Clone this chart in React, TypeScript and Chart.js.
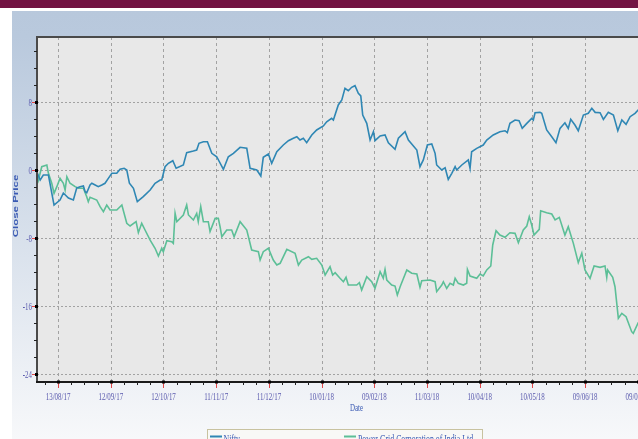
import { useEffect, useRef } from 'react';
import { Chart, registerables } from 'chart.js';

Chart.register(...registerables);

// ---- data ----
const xTickLabels = ['13/08/17', '12/09/17', '12/10/17', '11/11/17', '11/12/17', '10/01/18', '09/02/18', '11/03/18', '10/04/18', '10/05/18', '09/06/18', '09/07/18'];
const xTickStepDays = 30; // labelled ticks every 30 days from 13/08/17
const yTickValues = [8, 0, -8, -16, -24];
const seriesNames = ['Nifty', 'Power Grid Corporation of India Ltd.'];
const xTitle = 'Date';
const yTitle = 'Close Price';

// [days since 13/08/17, close price change]
const niftyClose: [number, number][] = [
  [-12.1, -0.2], [-10.2, -1.18], [-8.4, -0.59], [-5.5, -0.59], [-2.3, -4.12], [1.1, -3.53], [3, -2.71], [5.9, -3.29], [8.7, -3.53], [10.6, -2.12],
  [12.5, -1.96], [14.4, -1.88], [15.4, -2.55], [16.3, -2.67], [18.2, -1.76], [19.2, -1.56], [21.1, -1.76], [22.9, -1.96], [24.9, -1.76], [26.7, -1.56],
  [28.6, -0.98], [30.6, -0.39], [33.4, -0.39], [35.3, 0.08], [37.6, 0.2], [39.1, 0], [40.6, -1.56], [42.9, -2.15], [45.1, -3.73], [48.5, -3.14],
  [52.4, -2.35], [55.2, -1.56], [58.1, -1.18], [59, -1.18], [60.9, 0.39], [62.8, 0.79], [65.3, 1.09], [67.2, 0.2], [71.3, 0.59], [73.2, 2.04],
  [77, 2.24], [78.9, 2.35], [80.2, 3.14], [82.7, 3.33], [85, 3.33], [87.5, 1.96], [90.3, 1.56], [94.1, 0.08], [96.9, 1.56], [99.8, 1.96],
  [103.6, 2.67], [107.4, 2.55], [109.3, 0.2], [113.1, 0], [115.4, -0.71], [116.8, 1.49], [119.7, 1.88], [121.6, 0.79], [124.5, 2.15], [128.2, 2.94],
  [131.1, 3.45], [133.9, 3.73], [135.9, 3.92], [137.7, 3.53], [139.6, 3.73], [141.5, 3.21], [144.4, 4.12], [147.2, 4.71], [151, 5.18], [152.9, 5.68],
  [155.7, 6.08], [156.7, 5.88], [159.5, 7.65], [161.5, 8.24], [163.3, 9.61], [165.2, 9.33], [167.1, 9.73], [169, 9.92], [170.9, 9.02], [172.3, 8.71],
  [173.4, 6.47], [175.7, 5.49], [177.6, 3.53], [179.5, 4.51], [180.4, 3.45], [183.3, 4.0], [186.1, 4.12], [188, 3.21], [191.8, 2.43], [193.7, 3.73],
  [197.5, 4.51], [199.4, 3.53], [204.2, 2.35], [206, 0.39], [207.9, 1.18], [210.2, 2.94], [212.7, 3.06], [214.6, 1.96], [215.5, 0.59], [218.4, 0],
  [220.3, 0.27], [222.1, -1.1], [224.1, -0.39], [226, 0.39], [226.9, 0], [229.8, 0.59], [233.5, 1.18], [234.5, 0.2], [235.4, 2.15], [238.3, 2.55],
  [242, 2.94], [244, 3.53], [247.7, 4.12], [251.5, 4.51], [254.4, 4.62], [255.7, 4.39], [257.2, 5.49], [260.1, 5.88], [262.4, 5.8], [264.2, 4.9],
  [266.8, 5.49], [269.6, 6.08], [270.5, 5.88], [271.5, 6.74], [274.3, 6.78], [275.3, 6.67], [278.1, 4.71], [281, 3.92], [283.4, 3.21], [285.7, 4.9],
  [288.5, 5.56], [290.4, 4.9], [291.8, 5.96], [294.2, 5.29], [296.1, 4.62], [299, 6.47], [301.8, 6.67], [303.8, 7.26], [305.7, 6.78], [308.5, 6.74],
  [310.4, 5.96], [313.2, 6.78], [316.1, 6.47], [318.6, 4.62], [320.9, 5.88], [323.3, 5.37], [325.6, 6.27], [328.4, 6.67], [330.2, 7.06], [334.2, 7.3],
];

const powerGridClose: [number, number][] = [
  [-12.1, -0.2], [-11.2, -1.18], [-9.3, 0.39], [-6.4, 0.59], [-5.5, -0.39], [-3.6, -1.56], [-2.3, -2.74], [-0.7, -1.96], [1.1, -0.98], [3, -1.56],
  [4, -2.35], [5, -0.79], [6.8, -1.56], [9.7, -1.96], [11.6, -2.15], [14.4, -2.15], [16.3, -3.14], [17.2, -3.73], [18.2, -3.21], [22, -3.53],
  [23.9, -4.31], [25.8, -4.9], [27.7, -4.12], [29.6, -4.71], [33.4, -4.71], [36.3, -4.12], [39.1, -6.27], [41, -6.59], [44.4, -6.08], [45.7, -7.37],
  [47.6, -6.27], [49.5, -7.06], [52.4, -8.24], [55.2, -9.21], [57.1, -10.12], [59, -9.21], [59.9, -9.61], [61.9, -8.31], [64.7, -8.43], [65.6, -8.63],
  [66.6, -5.1], [67.6, -6.08], [71.3, -5.29], [73.2, -4.12], [74.2, -5.29], [77, -5.88], [78.9, -5.1], [79.8, -6.08], [81.2, -4.31], [82.7, -6.08],
  [85.5, -6.08], [86.5, -7.25], [89.4, -5.69], [91.2, -5.69], [92.2, -6.67], [93.2, -7.85], [96, -7.06], [98.8, -7.06], [100.2, -7.85], [103.6, -6.08],
  [107.4, -7.06], [110.2, -9.41], [114, -9.61], [115, -10.59], [116.8, -9.61], [119.7, -9.21], [122.5, -10.59], [124.5, -11.18], [126.4, -10.98], [130.2, -9.33],
  [134.9, -9.8], [136.8, -11.18], [138.7, -10.59], [142.5, -10.2], [144.4, -10.51], [147.2, -10.39], [150.1, -11.18], [152, -12.35], [154.8, -11.37], [156.3, -12.35],
  [157.7, -12.08], [160.5, -12.74], [162.4, -13.14], [163.9, -12.62], [165.2, -13.53], [170, -13.53], [171.5, -13.26], [172.8, -14.12], [175.7, -12.55], [178.5, -13.14],
  [180.4, -13.92], [183.3, -11.96], [185.1, -12.74], [186.1, -11.69], [187.1, -12.94], [189.9, -13.53], [191.8, -13.65], [193.1, -14.71], [194.7, -13.73], [198.5, -11.76],
  [201.3, -12.15], [204.2, -12.24], [206, -13.8], [207, -13.02], [211.7, -12.94], [214.6, -13.14], [215.5, -14.31], [218.4, -13.53], [219.3, -13.14], [221.2, -13.92],
  [223.1, -13.33], [225, -13.53], [226, -12.74], [227.8, -13.33], [230.7, -13.53], [232.6, -13.33], [233, -11.69], [234.5, -12.47], [238.3, -12.74], [240.2, -12.24],
  [242, -12.47], [244, -11.76], [246.3, -11.29], [247.4, -8.82], [249.3, -7.14], [251.5, -7.65], [254.4, -7.92], [257.2, -7.38], [260.1, -7.45], [262, -8.55],
  [264.8, -7.06], [266.8, -6.59], [268.2, -5.49], [269.6, -6.47], [270.9, -7.65], [273.9, -6.98], [274.7, -4.79], [278.1, -5.02], [281, -5.18], [282.9, -5.88],
  [285.3, -5.57], [288.5, -7.65], [290.4, -6.67], [293.3, -8.63], [296.1, -10.9], [298.1, -9.8], [299.9, -11.76], [302.8, -12.74], [305.1, -11.29], [308.5, -11.45],
  [311.3, -11.29], [312.3, -12.62], [312.8, -11.76], [315.7, -12.62], [317, -13.73], [318.9, -17.45], [320.9, -16.86], [323.3, -17.25], [326.5, -19.02], [327.4, -19.22],
  [330.2, -17.96], [334.2, -17.4],
];

const seriesColors = ['#2f87b4', '#5cbf97'];

// ---- drawing helpers ----
function drawText(
  ctx: CanvasRenderingContext2D, text: string, x: number, y: number,
  font: string, color: string, align: CanvasTextAlign, baseline: CanvasTextBaseline, sx: number,
) {
  ctx.save();
  ctx.translate(x, y);
  ctx.scale(sx, 1);
  ctx.font = font;
  ctx.fillStyle = color;
  ctx.textAlign = align;
  ctx.textBaseline = baseline;
  ctx.fillText(text, 0, 0);
  ctx.restore();
}

const TEXT_SX = 0.63;
const LABEL_COLOR = '#5a5aae';
const TITLE_COLOR = '#3a5ab3';

const decorPlugin = {
  id: 'decor',
  beforeDraw(chart: any) {
    const { ctx, chartArea: a, width, height } = chart;
    const xs = chart.scales.x;
    const ys = chart.scales.y;
    ctx.save();
    ctx.fillStyle = '#ffffff';
    ctx.fillRect(0, 0, width, height);
    ctx.fillStyle = '#721343';
    ctx.fillRect(0, 0, width, 8);
    const g = ctx.createLinearGradient(0, 11, 0, height);
    g.addColorStop(0, '#b8c8dc');
    g.addColorStop(0.06, '#b9c9dd');
    g.addColorStop(1, '#f7f8fa');
    ctx.fillStyle = g;
    ctx.fillRect(12, 11, width - 12, height - 11);
    ctx.fillStyle = '#e8e8e8';
    ctx.fillRect(a.left, a.top, a.right - a.left, a.bottom - a.top);

    // grid lines
    ctx.strokeStyle = '#a2a2a2';
    ctx.lineWidth = 1;
    ctx.setLineDash([2, 2]);
    for (const t of ys.ticks) {
      const y = Math.round(ys.getPixelForValue(t.value)) + 0.5;
      ctx.beginPath();
      ctx.moveTo(a.left, y);
      ctx.lineTo(a.right, y);
      ctx.stroke();
    }
    ctx.setLineDash([3, 3]);
    for (const t of xs.ticks) {
      const x = Math.round(xs.getPixelForValue(t.value)) + 0.5;
      ctx.beginPath();
      ctx.moveTo(x, a.top);
      ctx.lineTo(x, a.bottom);
      ctx.stroke();
    }
    ctx.restore();
  },
  afterDatasetsDraw(chart: any) {
    const { ctx, chartArea: a } = chart;
    const xs = chart.scales.x;
    const ys = chart.scales.y;
    ctx.save();
    // frame
    ctx.strokeStyle = '#4a4a4a';
    ctx.lineWidth = 2;
    ctx.beginPath();
    ctx.moveTo(a.left, a.bottom);
    ctx.lineTo(a.left, a.top);
    ctx.lineTo(a.right, a.top);
    ctx.stroke();
    ctx.strokeStyle = '#1a1a1a';
    ctx.beginPath();
    ctx.moveTo(a.left - 1, a.bottom);
    ctx.lineTo(a.right, a.bottom);
    ctx.stroke();

    // y ticks
    ctx.lineWidth = 1;
    for (const t of ys.ticks) {
      const y = Math.round(ys.getPixelForValue(t.value)) + 0.5;
      ctx.strokeStyle = '#e04848';
      ctx.beginPath();
      ctx.moveTo(a.left - 5, y);
      ctx.lineTo(a.left - 1, y);
      ctx.stroke();
      ctx.fillStyle = '#000';
      ctx.fillRect(a.left - 2, y - 1.5, 3, 3);
    }
    ctx.strokeStyle = '#222';
    const yMajor = ys.ticks.map((t: any) => t.value);
    for (let v = -24; v <= 14; v += 2) {
      if (yMajor.includes(v)) continue;
      const y = Math.round(ys.getPixelForValue(v)) + 0.5;
      ctx.beginPath();
      ctx.moveTo(a.left - 3, y);
      ctx.lineTo(a.left, y);
      ctx.stroke();
    }
    // x ticks
    for (const t of xs.ticks) {
      const x = Math.round(xs.getPixelForValue(t.value)) + 0.5;
      ctx.strokeStyle = '#e04848';
      ctx.beginPath();
      ctx.moveTo(x, a.bottom + 1);
      ctx.lineTo(x, a.bottom + 6);
      ctx.stroke();
      ctx.fillStyle = '#000';
      ctx.fillRect(x - 1.5, a.bottom - 1.5, 3, 3);
    }
    ctx.strokeStyle = '#222';
    const step = xTickStepDays / 4;
    for (let d = -step; d < xs.max; d += step) {
      if (Math.abs(d / xTickStepDays - Math.round(d / xTickStepDays)) < 1e-6) continue;
      if (d < xs.min) continue;
      const x = Math.round(xs.getPixelForValue(d)) + 0.5;
      ctx.beginPath();
      ctx.moveTo(x, a.bottom);
      ctx.lineTo(x, a.bottom + 3);
      ctx.stroke();
    }
    ctx.restore();
  },
  afterDraw(chart: any) {
    const { ctx, chartArea: a } = chart;
    const xs = chart.scales.x;
    const ys = chart.scales.y;
    const serif = '"Liberation Serif", "Times New Roman", serif';

    // tick labels
    ys.ticks.forEach((t: any) => {
      const y = ys.getPixelForValue(t.value);
      drawText(ctx, String(t.value), a.left - 5, y + 1, `11px ${serif}`, LABEL_COLOR, 'right', 'middle', TEXT_SX);
    });
    xs.ticks.forEach((t: any, i: number) => {
      const x = xs.getPixelForValue(t.value);
      drawText(ctx, xTickLabels[i], x, a.bottom + 17.5, `11px ${serif}`, LABEL_COLOR, 'center', 'alphabetic', TEXT_SX);
    });

    // axis titles
    drawText(ctx, xTitle, 356.5, a.bottom + 29, `11px ${serif}`, TITLE_COLOR, 'center', 'alphabetic', TEXT_SX);
    ctx.save();
    ctx.translate(16.5, 206);
    ctx.rotate(-Math.PI / 2);
    ctx.scale(1, TEXT_SX);
    ctx.font = 'bold 11.5px "Liberation Sans", Arial, sans-serif';
    ctx.fillStyle = TITLE_COLOR;
    ctx.textAlign = 'center';
    ctx.textBaseline = 'middle';
    ctx.fillText(yTitle, 0, 0);
    ctx.restore();

    // legend
    ctx.save();
    ctx.fillStyle = '#f8f8f6';
    ctx.fillRect(207, 429.5, 276, 20);
    ctx.strokeStyle = '#c8c2a0';
    ctx.lineWidth = 1;
    ctx.strokeRect(207.5, 429.5, 275, 20);
    const entries = [
      { x: 210, tx: 223.5 },
      { x: 344, tx: 358 },
    ];
    chart.data.datasets.forEach((ds: any, i: number) => {
      const e = entries[i];
      ctx.strokeStyle = ds.borderColor;
      ctx.lineWidth = 2;
      ctx.beginPath();
      ctx.moveTo(e.x, 436.5);
      ctx.lineTo(e.x + 12, 436.5);
      ctx.stroke();
      drawText(ctx, ds.label, e.tx, 442.5, `12px ${serif}`, TITLE_COLOR, 'left', 'alphabetic', 0.65);
    });
    ctx.restore();
  },
};

export default function App() {
  const canvasRef = useRef<HTMLCanvasElement | null>(null);

  useEffect(() => {
    const canvas = canvasRef.current;
    if (!canvas) return;
    const chart = new Chart(canvas, {
      type: 'line',
      data: {
        datasets: [
          {
            label: seriesNames[0],
            data: niftyClose.map(([d, v]) => ({ x: d, y: v })),
            borderColor: seriesColors[0],
            borderWidth: 1.6,
            pointRadius: 0,
            tension: 0,
          },
          {
            label: seriesNames[1],
            data: powerGridClose.map(([d, v]) => ({ x: d, y: v })),
            borderColor: seriesColors[1],
            borderWidth: 1.6,
            pointRadius: 0,
            tension: 0,
          },
        ],
      },
      options: {
        responsive: false,
        animation: false,
        devicePixelRatio: 1,
        layout: { padding: { left: 0, top: 37, right: 40, bottom: 0 } },
        plugins: {
          legend: { display: false },
          tooltip: { enabled: false },
          title: { display: false },
        },
        scales: {
          x: {
            type: 'linear',
            min: -12,
            max: 354,
            grid: { display: false },
            border: { display: false },
            ticks: { display: false },
            afterBuildTicks: (scale: any) => {
              scale.ticks = xTickLabels.map((_, i) => ({ value: i * xTickStepDays }));
            },
            afterFit: (scale: any) => {
              scale.height = 57;
            },
          },
          y: {
            type: 'linear',
            min: -24.94,
            max: 15.647,
            grid: { display: false },
            border: { display: false },
            ticks: { display: false },
            afterBuildTicks: (scale: any) => {
              scale.ticks = yTickValues.map((v) => ({ value: v }));
            },
            afterFit: (scale: any) => {
              scale.width = 37;
            },
          },
        },
      } as any,
      plugins: [decorPlugin],
    });
    return () => chart.destroy();
  }, []);

  return (
    <div style={{ position: 'absolute', left: 0, top: 0, width: 638, height: 439, overflow: 'hidden' }}>
      <canvas ref={canvasRef} width={720} height={439} style={{ display: 'block' }} />
    </div>
  );
}
